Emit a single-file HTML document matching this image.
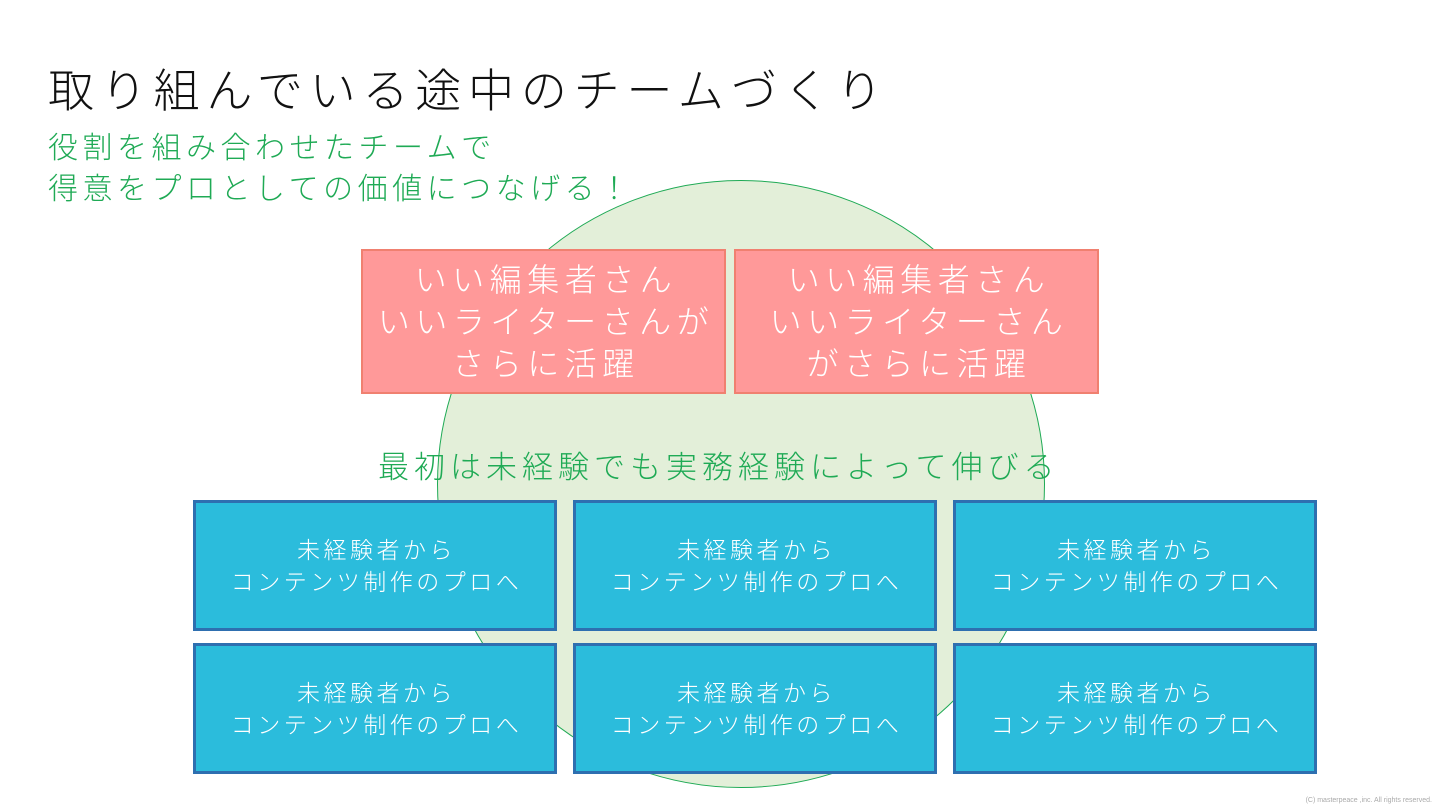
<!DOCTYPE html>
<html><head><meta charset="utf-8"><style>
body{margin:0;width:1440px;height:810px;background:#fff;position:relative;overflow:hidden;font-family:"Liberation Sans","Noto Sans CJK JP",sans-serif;font-weight:300}
.a{position:absolute}
.t{left:48px;top:55px;font-size:46px;color:#111;letter-spacing:6.8px;white-space:nowrap}
.s{left:48px;top:128px;font-size:30px;color:#1faa55;line-height:41px;white-space:nowrap;letter-spacing:4.5px}
.c{left:437px;top:180px;width:606px;height:606px;border-radius:50%;background:#e3efd9;border:1.5px solid #1faa55}
.p{background:#ff9999;border:2px solid #f08070;box-sizing:border-box;color:#fff;font-size:32px;line-height:42px;display:flex;align-items:center;justify-content:center;text-align:center;top:249px;width:365px;height:145px;letter-spacing:5.5px;padding-left:5px}
.b{background:#2bbcdc;border:3px solid #2e6fb0;box-sizing:border-box;color:#fff;font-size:23px;line-height:32px;display:flex;align-items:center;justify-content:center;text-align:center;width:364px;height:131px;letter-spacing:3.5px;padding-left:3px}
.m{left:378px;top:442px;font-size:31px;color:#1faa55;white-space:nowrap;letter-spacing:5px}
.f{right:8px;bottom:6px;font-size:7px;color:#aaa}
</style></head><body>
<div class="a t">取り組んでいる途中のチームづくり</div>
<div class="a s">役割を組み合わせたチームで<br>得意をプロとしての価値につなげる！</div>
<div class="a c"></div>
<div class="a p" style="left:361px">いい編集者さん<br>いいライターさんが<br>さらに活躍</div>
<div class="a p" style="left:734px">いい編集者さん<br>いいライターさん<br>がさらに活躍</div>
<div class="a m">最初は未経験でも実務経験によって伸びる</div>
<div class="a b" style="left:193px;top:500px">未経験者から<br>コンテンツ制作のプロへ</div>
<div class="a b" style="left:573px;top:500px">未経験者から<br>コンテンツ制作のプロへ</div>
<div class="a b" style="left:953px;top:500px">未経験者から<br>コンテンツ制作のプロへ</div>
<div class="a b" style="left:193px;top:643px">未経験者から<br>コンテンツ制作のプロへ</div>
<div class="a b" style="left:573px;top:643px">未経験者から<br>コンテンツ制作のプロへ</div>
<div class="a b" style="left:953px;top:643px">未経験者から<br>コンテンツ制作のプロへ</div>
<div class="a f">(C) masterpeace ,inc. All rights reserved.</div>
</body></html>
